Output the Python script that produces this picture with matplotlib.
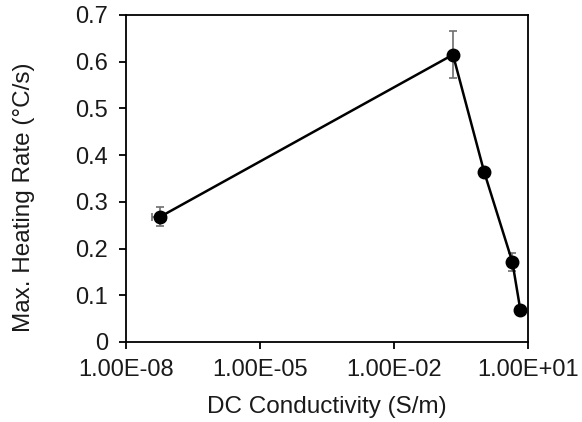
import matplotlib
matplotlib.use("Agg")
import matplotlib.pyplot as plt
from matplotlib.ticker import FixedLocator, FuncFormatter

conductivity = [5.8e-8, 0.21, 1.05, 4.5, 6.8]
heating_rate = [0.268, 0.615, 0.364, 0.171, 0.068]
rate_err = [0.02, 0.05, 0.0, 0.02, 0.01]
cond_err = [2e-8, 0.0, 0.0, 0.0, 0.0]
x_ticks = [1e-8, 1e-5, 1e-2, 1e1]
x_tick_labels = ["1.00E-08", "1.00E-05", "1.00E-02", "1.00E+01"]
y_ticks = [0, 0.1, 0.2, 0.3, 0.4, 0.5, 0.6, 0.7]

plt.rcParams['font.family'] = ['Liberation Sans', 'DejaVu Sans']

fig = plt.figure(figsize=(5.82, 4.22), dpi=100)
ax = fig.add_axes([0.2165, 0.1896, 0.6905, 0.7749])

ax.errorbar(conductivity, heating_rate, yerr=rate_err, xerr=cond_err, fmt='none',
            ecolor='#6e6e6e', elinewidth=1.2, capsize=3, capthick=1.2, zorder=2)
ax.plot(conductivity, heating_rate, color='black', lw=1.8, marker='o',
        markersize=9, zorder=3)

ax.set_xscale('log')
ax.set_xlim(1e-8, 1e1)
ax.set_ylim(0, 0.7)
ax.xaxis.set_major_locator(FixedLocator(x_ticks))
ax.xaxis.set_minor_locator(FixedLocator([]))
ax.set_xticklabels(x_tick_labels)
ax.set_yticks(y_ticks)
ax.yaxis.set_major_formatter(FuncFormatter(lambda v, p: "0" if v == 0 else f"{v:.1f}"))

for s in ax.spines.values():
    s.set_linewidth(1.3)
    s.set_color('black')
ax.tick_params(direction='out', length=5, width=1.3, labelsize=17, colors='black',
               labelcolor='#1a1a1a')
ax.tick_params(axis='x', pad=7)
ax.tick_params(axis='y', pad=8)

ax.set_xlabel("DC Conductivity (S/m)", fontsize=17.5, labelpad=11, color='#1a1a1a')
ax.set_ylabel("Max. Heating Rate (°C/s)", fontsize=17.5, color='#1a1a1a')
ax.yaxis.set_label_coords(-0.226, 0.443)

fig.savefig("out.png", dpi=100)
